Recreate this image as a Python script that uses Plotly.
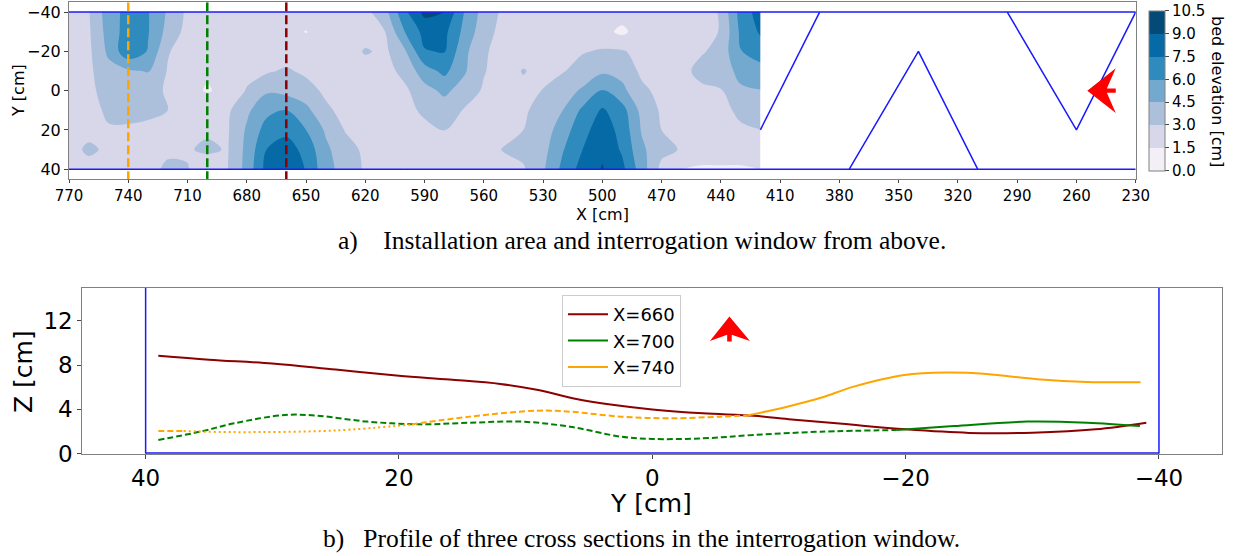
import numpy as np
import plotly.graph_objects as go

# ---------------- data ----------------
# bed elevation grid (cm): columns at X positions, rows at Y positions
bed_x = [770, 760, 750, 740, 730, 720, 710, 700, 690, 680, 670, 660, 650, 640, 630, 620, 610, 600,
         590, 580, 570, 560, 550, 540, 530, 520, 510, 500, 490, 480, 470, 460, 450, 440, 430, 420]
bed_y = [-40, -30, -20, -10, 0, 10, 20, 30, 40]
bed_cols = [
    [2.2, 2.3, 2.4, 2.3, 2.0, 2.2, 2.3, 2.4, 2.2],    # 770
    [2.9, 2.8, 2.7, 2.7, 2.7, 2.6, 2.5, 3.3, 2.4],    # 760
    [5.3, 5.1, 4.8, 4.0, 3.5, 3.2, 2.9, 2.7, 2.3],    # 750
    [6.5, 6.7, 7.1, 4.3, 3.2, 3.9, 2.6, 2.0, 2.05],   # 740
    [6.1, 6.1, 5.9, 4.6, 3.6, 3.3, 2.7, 2.3, 2.5],    # 730
    [4.3, 4.0, 3.1, 2.9, 2.8, 3.0, 2.6, 2.7, 3.3],    # 720
    [2.7, 2.5, 2.4, 2.2, 2.1, 2.3, 2.5, 2.8, 3.1],    # 710
    [2.5, 2.9, 2.15, 1.75, 1.35, 2.9, 2.66, 3.4, 1.6],  # 700
    [2.3, 2.3, 2.3, 2.2, 2.0, 2.7, 2.8, 2.85, 2.9],   # 690
    [2.3, 2.3, 2.4, 2.6, 3.1, 4.2, 4.7, 4.9, 5.0],    # 680
    [2.4, 2.3, 2.4, 2.8, 4.3, 5.6, 6.6, 7.5, 8.0],    # 670
    [2.7, 1.9, 2.2, 3.2, 4.0, 6.0, 7.1, 8.2, 8.9],    # 660
    [2.3, 1.45, 2.2, 2.7, 3.6, 4.9, 6.0, 7.0, 7.4],   # 650
    [2.2, 2.2, 2.1, 2.3, 2.7, 3.3, 4.3, 4.8, 5.0],    # 640
    [2.3, 2.3, 2.2, 2.2, 2.3, 2.5, 2.9, 3.6, 3.9],    # 630
    [2.6, 2.3, 3.15, 2.3, 2.2, 2.3, 2.5, 2.7, 2.8],   # 620
    [4.0, 3.0, 2.7, 2.4, 2.3, 2.2, 2.3, 2.3, 2.2],    # 610
    [7.2, 6.0, 4.3, 3.5, 2.7, 2.5, 2.4, 2.3, 1.45],   # 600
    [9.4, 8.0, 7.4, 5.3, 4.0, 3.3, 2.6, 2.4, 2.3],    # 590
    [9.1, 7.9, 7.6, 6.4, 4.8, 3.8, 3.05, 2.4, 2.3],   # 580
    [6.0, 5.6, 4.9, 4.7, 3.9, 2.9, 2.6, 2.3, 2.2],    # 570
    [3.9, 3.6, 3.2, 3.1, 2.8, 2.4, 2.3, 2.3, 2.3],    # 560
    [2.7, 2.5, 2.4, 2.3, 2.3, 2.3, 2.4, 3.1, 2.4],    # 550
    [2.4, 2.3, 2.3, 3.1, 2.6, 2.8, 3.0, 3.4, 2.85],   # 540
    [2.3, 2.2, 2.3, 2.5, 3.05, 3.5, 3.7, 4.0, 4.3],   # 530
    [2.2, 2.3, 2.5, 2.9, 3.9, 4.5, 5.3, 5.9, 6.4],    # 520
    [2.3, 2.4, 2.9, 3.6, 4.7, 6.3, 7.0, 7.5, 8.1],    # 510
    [2.2, 2.0, 3.15, 4.25, 6.05, 7.7, 8.3, 8.7, 9.1],  # 500
    [2.2, 1.15, 3.15, 4.0, 4.9, 6.6, 7.0, 7.3, 7.9],  # 490
    [2.2, 2.3, 2.5, 2.7, 3.3, 4.0, 4.35, 4.8, 5.2],   # 480
    [2.3, 2.3, 2.4, 2.4, 2.6, 2.8, 3.0, 3.4, 2.6],    # 470
    [2.3, 2.3, 2.3, 2.4, 2.4, 2.4, 2.5, 2.9, 1.5],    # 460
    [1.6, 2.4, 2.8, 3.6, 2.6, 2.4, 2.3, 2.3, 1.3],    # 450
    [3.3, 3.1, 3.6, 3.8, 2.9, 2.6, 2.4, 2.3, 1.3],    # 440
    [6.6, 6.3, 5.95, 4.9, 4.3, 3.3, 2.8, 2.3, 1.3],   # 430
    [8.2, 7.7, 6.8, 5.4, 4.45, 3.8, 2.98, 2.4, 1.5],  # 420
]
bed_levels = [0.0, 1.5, 3.0, 4.5, 6.0, 7.5, 9.0, 10.5]
pubu_colors = ['#f4eef6', '#d8d7ea', '#acc0dc', '#74a9cf', '#2f8bbe', '#056aa6', '#034a77']

# installation geometry (top view)
channel_x = [770, 230]
channel_edges_y = [-40, 40]
zig1_x, zig1_y = [420, 390], [20, -40]
zig2_x, zig2_y = [375, 340, 310], [40, -20, 40]
zig3_x, zig3_y = [295, 260, 230], [-40, 20, -40]

section_x = [740, 700, 660]
section_colors = ['#ffa500', '#008000', '#8b0000']

# cross-section profiles
p660_y = [39, 35, 30, 25, 20, 16, 12, 9, 6, 3, 0, -4, -8, -11, -15, -20, -25, -30, -35, -39]
p660_z = [8.86, 8.5, 8.15, 7.6, 7.05, 6.7, 6.3, 5.75, 4.95, 4.4, 4.0, 3.65, 3.42, 3.1, 2.7, 2.2,
          1.88, 1.9, 2.2, 2.8]

p700_y = [39, 35.7, 33, 29, 26.5, 22.5, 18.3, 14.4, 10.4, 6.5, 2.5, 0, -4, -8, -13.3, -19.3,
          -23.8, -29.6, -34.35, -38.5]
p700_z = [1.24, 1.99, 2.75, 3.5, 3.44, 2.9, 2.65, 2.8, 2.9, 2.44, 1.54, 1.33, 1.39, 1.69, 1.99, 2.14,
          2.5, 2.9, 2.8, 2.5]
p700_segments = [("dash", 0, 15), ("solid", 15, 19)]

p740_y = [39, 37, 33, 25, 19, 14.4, 9.1, 6.5, 2.5, -1.4, -5.4, -7.5, -10.65, -13.3, -15.9, -19.9,
          -23.3, -26.4, -30.4, -34.35, -38.55]
p740_z = [2.05, 2.05, 1.95, 2.1, 2.65, 3.35, 3.89, 3.8, 3.35, 3.2, 3.35, 3.45, 4.25, 5.05, 6.06, 7.12,
          7.33, 7.2, 6.73, 6.48, 6.46]
p740_segments = [("dash", 0, 1), ("dot", 1, 4), ("dash", 4, 11), ("solid", 11, 20)]

# flow-direction arrows
top_arrow_x = [254.5, 240.1, 244.6, 240.1, 240.1, 244.6, 240.1]
top_arrow_y = [0, -11.4, -1.1, -1.1, 1.1, 1.1, 11.4]
bot_arrow_y = [-6.09, -4.55, -5.91, -5.91, -6.27, -6.27, -7.71]
bot_arrow_z = [12.39, 10.19, 10.75, 10.13, 10.13, 10.75, 10.19]

# ---------------- figure ----------------
W, H = 1237, 556
FONT = "DejaVu Sans"
SERIF = "Liberation Serif"
DASHES = {"solid": "solid", "dash": "6px,3px", "dot": "2px,3px"}

fig = go.Figure()

# contour (x ascending for the trace)
z = np.array(bed_cols).T[:, ::-1]
xs = bed_x[::-1]
cs = []
n = len(pubu_colors)
for i, c in enumerate(pubu_colors):
    cs.append([i / n, c])
    cs.append([(i + 1) / n, c])

fig.add_trace(go.Contour(
    x=xs, y=bed_y, z=z, xaxis="x", yaxis="y",
    colorscale=cs, zmin=bed_levels[0], zmax=bed_levels[-1],
    autocontour=False,
    contours=dict(start=bed_levels[0], end=bed_levels[-1], size=bed_levels[1] - bed_levels[0],
                  coloring="fill", showlines=False),
    line=dict(width=0, smoothing=1.0),
    colorbar=dict(
        x=1149 / W, xanchor="left", xpad=0, ypad=0,
        y=1 - 90.7 / H, yanchor="middle", len=160 / H, lenmode="fraction",
        thickness=16, outlinecolor="#808080", outlinewidth=1,
        tickvals=bed_levels, ticktext=[f"{v:.1f}" for v in bed_levels],
        ticks="outside", ticklen=4, tickcolor="#444",
        tickfont=dict(family=FONT, size=15, color="black"),
    ),
    hoverinfo="skip", showlegend=False,
))

# channel edges and zigzag installation
for ye in channel_edges_y:
    fig.add_trace(go.Scatter(x=channel_x, y=[ye, ye], mode="lines", xaxis="x", yaxis="y",
                             line=dict(color="#1a1aff", width=1.5), showlegend=False, hoverinfo="skip"))
for zx, zy in [(zig1_x, zig1_y), (zig2_x, zig2_y), (zig3_x, zig3_y)]:
    fig.add_trace(go.Scatter(x=zx, y=zy, mode="lines", xaxis="x", yaxis="y",
                             line=dict(color="#1a1aff", width=1.5), showlegend=False, hoverinfo="skip"))

# section markers
for sx, sc in zip(section_x, section_colors):
    fig.add_trace(go.Scatter(x=[sx, sx], y=[-45, 45], mode="lines", xaxis="x", yaxis="y",
                             line=dict(color=sc, width=2.5, dash="9px,4px"),
                             showlegend=False, hoverinfo="skip"))

# profiles (legend entries first)
def seg(ys, zs, a, b):
    return ys[a:b + 1], zs[a:b + 1]

fig.add_trace(go.Scatter(x=p660_y, y=p660_z, mode="lines", name="X=660", xaxis="x2", yaxis="y2",
                         line=dict(color="#8b0000", width=2, shape="spline")))
for style, a, b in p700_segments:
    if style == "solid":
        sy, sz = seg(p700_y, p700_z, a, b)
        fig.add_trace(go.Scatter(x=sy, y=sz, mode="lines", name="X=700", xaxis="x2", yaxis="y2",
                                 line=dict(color="#008000", width=2, shape="spline")))
for style, a, b in p740_segments:
    if style == "solid":
        sy, sz = seg(p740_y, p740_z, a, b)
        fig.add_trace(go.Scatter(x=sy, y=sz, mode="lines", name="X=740", xaxis="x2", yaxis="y2",
                                 line=dict(color="#ffa500", width=2, shape="spline")))
for ys, zs, segs, col in [(p700_y, p700_z, p700_segments, "#008000"),
                          (p740_y, p740_z, p740_segments, "#ffa500")]:
    for style, a, b in segs:
        if style == "solid":
            continue
        sy, sz = seg(ys, zs, a, b)
        fig.add_trace(go.Scatter(x=sy, y=sz, mode="lines", xaxis="x2", yaxis="y2", showlegend=False,
                                 line=dict(color=col, width=2, dash=DASHES[style], shape="spline"),
                                 hoverinfo="skip"))

# window boundaries in profile view
for yb in [40, -40]:
    fig.add_trace(go.Scatter(x=[yb, yb], y=[0, 15], mode="lines", xaxis="x2", yaxis="y2",
                             line=dict(color="#1a1aff", width=1.5), showlegend=False, hoverinfo="skip"))
fig.add_trace(go.Scatter(x=[40, -40], y=[0, 0], mode="lines", xaxis="x2", yaxis="y2",
                         line=dict(color="#1a1aff", width=3), showlegend=False, hoverinfo="skip"))

# arrows
def path(xv, yv):
    return "M " + " L ".join(f"{a},{b}" for a, b in zip(xv, yv)) + " Z"

fig.add_shape(type="path", path=path(top_arrow_x, top_arrow_y), xref="x", yref="y",
              fillcolor="#ff0000", line=dict(width=0))
fig.add_shape(type="path", path=path(bot_arrow_y, bot_arrow_z), xref="x2", yref="y2",
              fillcolor="#ff0000", line=dict(width=0))

axis_common = dict(showgrid=False, zeroline=False, showline=True, mirror=True, automargin=False,
                   linecolor="#808080", linewidth=1, ticks="outside", tickcolor="#444")

top_xticks = list(range(770, 229, -30))
fig.update_layout(
    template="none",
    width=W, height=H, margin=dict(l=0, r=0, t=0, b=0, autoexpand=False),
    paper_bgcolor="white", plot_bgcolor="white",
    xaxis=dict(domain=[69 / W, 1135.7 / W], range=[770, 230], anchor="y", ticklen=3,
               tickvals=top_xticks, ticktext=[str(v) for v in top_xticks],
               tickfont=dict(family=FONT, size=15, color="black"), **axis_common),
    yaxis=dict(domain=[1 - 179 / H, 1 - 2.3 / H], range=[45, -45], anchor="x", ticklen=4,
               tickvals=[-40, -20, 0, 20, 40], ticktext=["\u221240", "\u221220", "0", "20", "40"],
               tickfont=dict(family=FONT, size=16, color="black"), **axis_common),
    xaxis2=dict(domain=[82.3 / W, 1222.3 / W], range=[45, -45], anchor="y2", ticklen=4,
                tickvals=[40, 20, 0, -20, -40], ticktext=["40", "20", "0", "\u221220", "\u221240"],
                tickfont=dict(family=FONT, size=23, color="black"), **axis_common),
    yaxis2=dict(domain=[1 - 453.7 / H, 1 - 287.7 / H], range=[0, 15], anchor="x2", ticklen=4,
                tickvals=[0, 4, 8, 12], ticktext=["0", "4", "8", "12"],
                tickfont=dict(family=FONT, size=23, color="black"), **axis_common),
    legend=dict(x=562 / W, y=1 - 295 / H, xanchor="left", yanchor="top", itemwidth=40,
                bgcolor="white", bordercolor="#cccccc", borderwidth=1,
                font=dict(family=FONT, size=18, color="black"), traceorder="normal"),
    showlegend=True,
)

ann = []
ann.append(dict(text="X [cm]", x=602 / W, y=1 - 214 / H, xref="paper", yref="paper",
                showarrow=False, font=dict(family=FONT, size=16, color="black"),
                xanchor="center", yanchor="middle"))
ann.append(dict(text="Y [cm]", x=19 / W, y=1 - 91 / H, xref="paper", yref="paper", textangle=-90,
                showarrow=False, font=dict(family=FONT, size=16, color="black"),
                xanchor="center", yanchor="middle"))
ann.append(dict(text="bed elevation [cm]", x=1217 / W, y=1 - 91 / H, xref="paper", yref="paper",
                textangle=90, showarrow=False, font=dict(family=FONT, size=16, color="black"),
                xanchor="center", yanchor="middle"))
ann.append(dict(text="Y [cm]", x=650.7 / W, y=1 - 503 / H, xref="paper", yref="paper",
                showarrow=False, font=dict(family=FONT, size=25, color="black"),
                xanchor="center", yanchor="middle"))
ann.append(dict(text="Z [cm]", x=24 / W, y=1 - 372 / H, xref="paper", yref="paper", textangle=-90,
                showarrow=False, font=dict(family=FONT, size=25, color="black"),
                xanchor="center", yanchor="middle"))
ann.append(dict(text="a)\u00a0\u00a0\u00a0\u00a0Installation area and interrogation window from above.",
                x=642 / W, y=1 - 240 / H, xref="paper", yref="paper", showarrow=False,
                font=dict(family=SERIF, size=25.5, color="black"), xanchor="center", yanchor="middle"))
ann.append(dict(text="b)\u00a0\u00a0\u00a0Profile of three cross sections in the interrogation window.",
                x=641.5 / W, y=1 - 538 / H, xref="paper", yref="paper", showarrow=False,
                font=dict(family=SERIF, size=25.5, color="black"), xanchor="center", yanchor="middle"))
fig.update_layout(annotations=ann)

fig.write_html("out.html")
